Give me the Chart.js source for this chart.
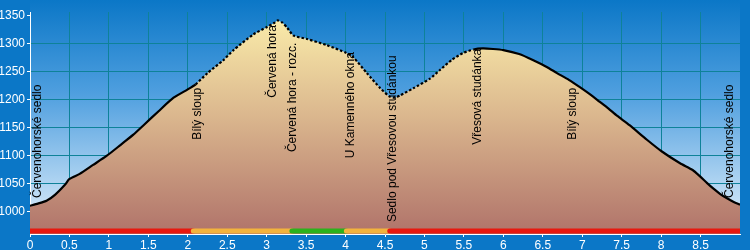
<!DOCTYPE html>
<html>
<head>
<meta charset="utf-8">
<script src="https://cdn.jsdelivr.net/npm/chart.js@4"></script>
<style>
  html, body { margin: 0; padding: 0; background: #0b77c7; }
  #wrap { width: 750px; height: 250px; }
</style>
</head>
<body>
<div id="wrap"><canvas id="profile"></canvas></div>
<script>
// DATA
const distKm = [
  0, 0.1, 0.21, 0.32, 0.44, 0.5, 0.63, 0.8, 0.97, 1.15, 1.31, 1.44, 1.63, 1.82,
  2.0, 2.1, 2.25, 2.45, 2.58, 2.83, 3.0, 3.1, 3.14, 3.2, 3.26, 3.34, 3.51, 3.76,
  4.01, 4.1, 4.27, 4.44, 4.56, 4.62, 4.69, 4.86, 5.07, 5.2, 5.35, 5.49, 5.62,
  5.74, 5.87, 6.0, 6.2, 6.38, 6.55, 6.68, 6.83, 6.97, 7.1, 7.22, 7.33, 7.44,
  7.6, 7.82, 8.01, 8.24, 8.4, 8.49, 8.58, 8.66, 8.75, 8.83, 8.92, 9.0
];
const elevation = [
  1011, 1015, 1020, 1031, 1048, 1059, 1068, 1084, 1100, 1120, 1138, 1155, 1180, 1204,
  1219, 1228, 1248, 1271, 1289, 1317, 1330, 1338, 1342, 1338, 1329, 1315, 1309, 1298,
  1284, 1276, 1248, 1221, 1206, 1204, 1208, 1221, 1238, 1254, 1272, 1284, 1290,
  1292, 1291, 1289, 1282, 1271, 1259, 1248, 1236, 1223, 1210, 1197, 1185, 1172,
  1155, 1129, 1108, 1087, 1075, 1064, 1052, 1042, 1032, 1025, 1018, 1013
];

// dotted part of the profile line (km)
const dottedFrom = 2.07;
const dottedTo = 5.68;

// coloured trail bar along the bottom
const trailBreaks = [0, 2.07, 3.32, 4.01, 4.56, 9.0];
const trailColors = ["#e8180f", "#f3b33d", "#2cb21c", "#f3b33d", "#e8180f"];

// waypoint names, where they sit (km) and the elevation the text starts at
const placeNames = [
  "Červenohorské sedlo", "Bílý sloup", "Červená hora", "Červená hora - rozc.",
  "U Kamenného okna", "Sedlo pod Vřesovou studánkou", "Vřesová studánka",
  "Bílý sloup", "Červenohorské sedlo"
];
const placeKm = [0.095, 2.13, 3.07, 3.33, 4.06, 4.6, 5.68, 6.88, 8.87];
const placeElev = [1025, 1129, 1204, 1107, 1096, 982, 1120, 1129, 1025];

const FONT = "'Liberation Sans', Arial, sans-serif";
const gridColor = "#0e8299";
const trailLevel = 966;

// PLUGINS
const background = {
  id: "background",
  beforeDraw(chart) {
    const { ctx, chartArea: a } = chart;
    ctx.save();
    ctx.fillStyle = "#0b77c7";
    ctx.fillRect(0, 0, chart.width, chart.height);
    const g = ctx.createLinearGradient(0, 0, 0, a.bottom);
    g.addColorStop(0, "#0b77c7");
    g.addColorStop(0.4, "#4f9fdf");
    g.addColorStop(1, "#e6f2fc");
    ctx.fillStyle = g;
    ctx.fillRect(a.left, 0, a.right - a.left, a.bottom);
    ctx.restore();
  }
};

const placeLabels = {
  id: "placeLabels",
  afterDatasetsDraw(chart) {
    const { ctx, scales } = chart;
    ctx.save();
    ctx.fillStyle = "#000";
    ctx.font = "12px " + FONT;
    ctx.textAlign = "left";
    ctx.textBaseline = "middle";
    placeNames.forEach((name, i) => {
      ctx.save();
      ctx.translate(scales.x.getPixelForValue(placeKm[i]), scales.y.getPixelForValue(placeElev[i]));
      ctx.rotate(-Math.PI / 2);
      ctx.fillText(name, 0, 0);
      ctx.restore();
    });
    ctx.restore();
  }
};

// CHART
const profilePoints = distKm.map((x, i) => ({ x, y: elevation[i] }));
const trailPoints = trailBreaks.map((x) => ({ x, y: trailLevel }));

new Chart(document.getElementById("profile"), {
  type: "line",
  data: {
    datasets: [
      {
        // trail colour bar
        order: 0,
        data: trailPoints,
        borderWidth: 5,
        borderCapStyle: "round",
        pointRadius: 0,
        fill: false,
        segment: { borderColor: (s) => trailColors[s.p0DataIndex] }
      },
      {
        // profile outline
        order: 1,
        data: profilePoints,
        borderColor: "#000",
        borderWidth: 2.2,
        pointRadius: 0,
        tension: 0.2,
        fill: false,
        segment: {
          borderDash: (s) =>
            s.p0.parsed.x >= dottedFrom - 0.01 && s.p1.parsed.x <= dottedTo + 0.01 ? [2.5, 2] : undefined
        }
      },
      {
        // terrain fill
        order: 2,
        data: profilePoints,
        borderWidth: 0,
        borderColor: "rgba(0,0,0,0)",
        pointRadius: 0,
        tension: 0.2,
        fill: "start",
        backgroundColor: (c) => {
          const a = c.chart.chartArea;
          if (!a) return "#d8b48c";
          const g = c.chart.ctx.createLinearGradient(0, a.top, 0, a.bottom);
          g.addColorStop(0, "#fcefab");
          g.addColorStop(0.45, "#dcb98f");
          g.addColorStop(1, "#b0736a");
          return g;
        }
      }
    ]
  },
  options: {
    responsive: true,
    maintainAspectRatio: false,
    animation: false,
    layout: { padding: { top: 12, right: 10, left: 0, bottom: 0 } },
    plugins: { legend: { display: false }, tooltip: { enabled: false } },
    scales: {
      x: {
        type: "linear",
        min: 0,
        max: 9,
        ticks: {
          stepSize: 0.5,
          includeBounds: false,
          autoSkip: false,
          maxRotation: 0,
          color: "#fff",
          padding: 1,
          font: { size: 12, family: FONT },
          callback: (v) => (v < 9 ? String(v) : null)
        },
        grid: { color: gridColor, tickColor: "#fff", tickLength: 3 },
        border: { color: "#fff", width: 1 },
        afterFit: (s) => { s.height = 16; }
      },
      y: {
        min: 960.7,
        max: 1357.1,
        ticks: {
          stepSize: 50,
          includeBounds: false,
          color: "#fff",
          padding: 2,
          font: { size: 12, family: FONT },
          callback: (v) => String(v)
        },
        grid: {
          color: (c) => (c.tick && c.tick.value >= 1350 ? "rgba(0,0,0,0)" : gridColor),
          tickColor: "#fff",
          tickLength: 3
        },
        border: { color: "#fff", width: 1 },
        afterFit: (s) => { s.width = 30; }
      }
    }
  },
  plugins: [background, placeLabels]
});
</script>
</body>
</html>
